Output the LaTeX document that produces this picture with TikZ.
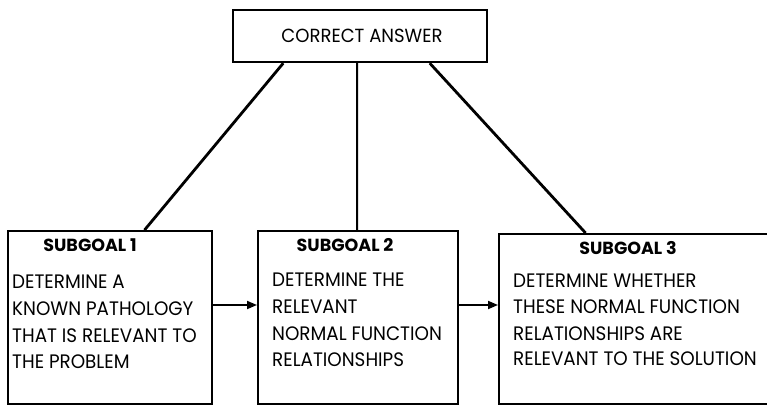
\documentclass[tikz,border=0pt]{standalone}
\usepackage{fontspec}
\setmainfont{Poppins}
\usetikzlibrary{arrows.meta,calc}
\tikzset{
  box/.style={draw,line width=2.2pt,inner sep=0pt,anchor=north west},
  link/.style={line width=2.8pt},
  vlink/.style={line width=2pt},
  arr/.style={line width=1.8pt,-{Triangle[length=10pt,width=8pt]}},
  body/.style={anchor=base west,inner sep=0pt,font=\addfontfeatures{FakeStretch=0.94}\fontsize{19.5}{19.5}\selectfont},
  head/.style={anchor=base,inner sep=0pt,font=\fontsize{17.5}{17.5}\selectfont\bfseries},
}
\begin{document}
\begin{tikzpicture}[x=1pt,y=-1pt]
\useasboundingbox (0,0) rectangle (767,404);
% boxes
\node[box,minimum width=254pt,minimum height=52pt] (top) at (232,9) {};
\node[box,minimum width=204pt,minimum height=173pt] (b1) at (7,230) {};
\node[box,minimum width=200pt,minimum height=173pt] (b2) at (257,230) {};
\node[box,minimum width=275pt,minimum height=170pt] (b3) at (498,233) {};
% texts
\node[anchor=base,inner sep=0pt,font=\addfontfeatures{FakeStretch=0.95}\fontsize{19}{19}\selectfont] (tt) at (362,42) {CORRECT ANSWER};
\node[head] (h1) at (90,251) {SUBGOAL 1};
\node[head] (h2) at (345,251) {SUBGOAL 2};
\node[head] (h3) at (628,254) {SUBGOAL 3};
\node[body] (t11) at (12,288) {DETERMINE A};
\node[body] (t12) at (12,315) {KNOWN PATHOLOGY};
\node[body] (t13) at (12,342) {THAT IS RELEVANT TO};
\node[body] (t14) at (12,368) {THE PROBLEM};
\node[body] (t21) at (272,286) {DETERMINE THE};
\node[body] (t22) at (272,313) {RELEVANT};
\node[body] (t23) at (272,340) {NORMAL FUNCTION};
\node[body] (t24) at (272,366) {RELATIONSHIPS};
\node[body] (t31) at (513,287) {DETERMINE WHETHER};
\node[body] (t32) at (513,313) {THESE NORMAL FUNCTION};
\node[body] (t33) at (513,340) {RELATIONSHIPS ARE};
\node[body] (t34) at (513,365) {RELEVANT TO THE SOLUTION};
% connectors
\draw[link] ($(top.south west)!0.2!(top.south east)$) -- ($(b1.north west)!0.667!(b1.north east)$);
\draw[vlink] ($(top.south west)!0.488!(top.south east)$) -- ($(b2.north west)!0.495!(b2.north east)$);
\draw[link] ($(top.south west)!0.772!(top.south east)$) -- ($(b3.north west)!0.316!(b3.north east)$);
\coordinate (a1) at (0,305);
\coordinate (a2) at (0,305);
\draw[arr] (b1.east |- a1) -- (b2.west |- a1);
\draw[arr] (b2.east |- a2) -- (b3.west |- a2);
\end{tikzpicture}
\end{document}
